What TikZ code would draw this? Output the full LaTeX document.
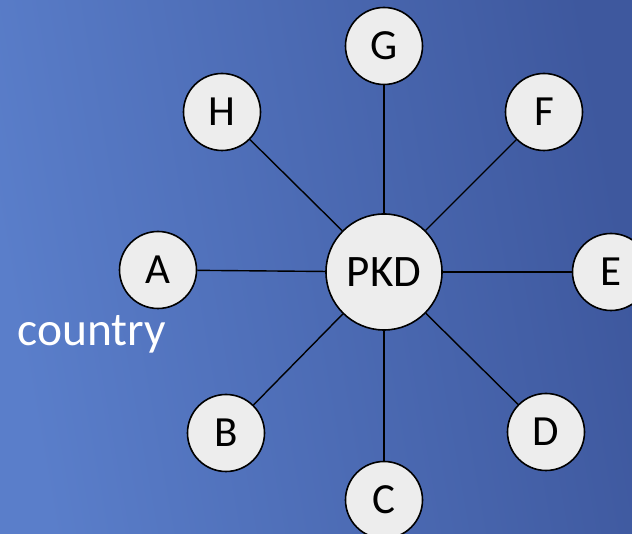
\documentclass[tikz,border=0pt]{standalone}
\usepackage{fontspec}
\setmainfont{Carlito}
\definecolor{bgL}{RGB}{90,126,202}
\definecolor{bgR}{RGB}{62,88,158}
\definecolor{nodefill}{RGB}{237,237,237}
\tikzset{
  small/.style={circle,draw=black,line width=1.6pt,fill=nodefill,minimum size=77pt,inner sep=0pt,font=\fontsize{43}{43}\selectfont},
  big/.style={circle,draw=black,line width=1.6pt,fill=nodefill,minimum size=116pt,inner sep=0pt,font=\fontsize{45}{45}\selectfont},
  link/.style={line width=1.4pt,draw=black}
}
\begin{document}
\begin{tikzpicture}[x=1pt,y=1pt]
\shade[left color=bgL,right color=bgR,shading angle=100] (0,0) rectangle (632,534);
\useasboundingbox (0,0) rectangle (632,534);
\node[big] (P) at (384,262) {PKD};
\node[small] (G) at (384,488) {G};
\node[small] (H) at (222,422) {H};
\node[small] (F) at (544,422) {F};
\node[small] (A) at (158,264) {A};
\node[small] (E) at (611,262) {E};
\node[small] (B) at (226,101) {B};
\node[small] (D) at (546,102) {D};
\node[small] (C) at (384,34) {C};
\node[text=white,font=\fontsize{47.5}{47.5}\selectfont,inner sep=0pt] (country) at (92,200) {country};
\foreach \n in {G,H,F,A,E,B,D,C}{\draw[link] (P) -- (\n);}
\end{tikzpicture}
\end{document}
